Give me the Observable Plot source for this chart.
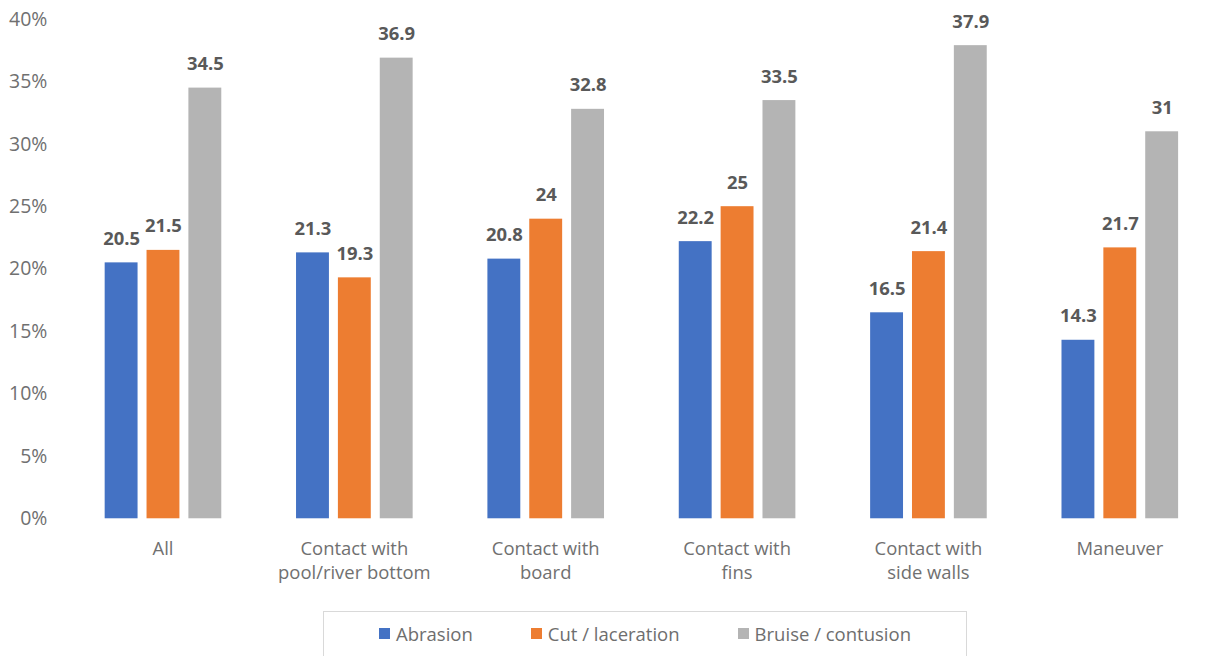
<!DOCTYPE html>
<html>
<head>
<meta charset="utf-8">
<script src="https://cdn.jsdelivr.net/npm/d3@7"></script>
<script src="https://cdn.jsdelivr.net/npm/@observablehq/plot@0.6"></script>
<style>
  html, body { margin: 0; padding: 0; background: #fff; overflow: hidden; }
  #chart { position: relative; width: 1215px; height: 656px; font-family: "Open Sans", sans-serif; }
  #legend {
    position: absolute; left: 323px; top: 611px; width: 644px; height: 48px;
    box-sizing: border-box; border: 1px solid #D9D9D9; border-bottom: none;
    display: flex; align-items: center; justify-content: center; gap: 58px;
    font-size: 18.5px; color: #6e6e6e; padding-bottom: 4px;
  }
  #legend .item { display: flex; align-items: center; gap: 6px; }
  #legend .sw { width: 11px; height: 11px; display: inline-block; }
</style>
</head>
<body>
<div id="chart"></div>
<script>
// Injury type shares by mechanism of injury (%)
const groups = [
  "All",
  "Contact with\npool/river bottom",
  "Contact with\nboard",
  "Contact with\nfins",
  "Contact with\nside walls",
  "Maneuver"
];
const series = ["Abrasion", "Cut / laceration", "Bruise / contusion"];
const colors = ["#4472C4", "#ED7D31", "#B4B4B4"];
const abrasion = [20.5, 21.3, 20.8, 22.2, 16.5, 14.3];
const cutLaceration = [21.5, 19.3, 24, 25, 21.4, 21.7];
const bruiseContusion = [34.5, 36.9, 32.8, 33.5, 37.9, 31];
const yTicks = [0, 5, 10, 15, 20, 25, 30, 35, 40];

const valuesBySeries = [abrasion, cutLaceration, bruiseContusion];
const rows = [];
groups.forEach((g, i) => {
  series.forEach((s, j) => rows.push({group: g, series: s, value: valuesBySeries[j][i]}));
});

const plot = Plot.plot({
  width: 1219,
  height: 600,
  marginLeft: 67,
  marginRight: 0,
  marginTop: 19,
  marginBottom: 80,
  style: {fontFamily: "'Open Sans', sans-serif", color: "#6e6e6e", background: "transparent"},
  fx: {domain: groups, padding: 0, axis: null},
  x: {domain: series, paddingInner: 0.2235, paddingOuter: 0.87, axis: null},
  y: {domain: [0, 40], axis: null},
  color: {domain: series, range: colors},
  marks: [
    Plot.gridY(yTicks, {stroke: "#D9D9D9", strokeOpacity: 1, strokeWidth: 1.3, facetAnchor: null, x1: 0, x2: 1219}),
    Plot.axisY(yTicks, {
      tickSize: 0, tickPadding: 20, fontSize: 19.5, fill: "#707070",
      tickFormat: d => d + "%", label: null
    }),
    Plot.barY(rows, {fx: "group", x: "series", y: "value", fill: "series"}),
    Plot.text(rows, {
      fx: "group", x: "series", y: "value", text: d => String(d.value),
      dy: -24, fontSize: 18.5, fontWeight: "bold", fill: "#595959"
    }),
    Plot.text(groups, {
      fx: d => d, text: d => d, frameAnchor: "bottom", lineAnchor: "top",
      dy: 19, fontSize: 18.5, lineHeight: 1.32, fill: "#707070"
    })
  ]
});

const chart = document.getElementById("chart");
plot.style.position = "absolute";
plot.style.left = "0px";
plot.style.top = "0px";
plot.style.overflow = "visible";
chart.appendChild(plot);

// Legend box below the plot
const legend = document.createElement("div");
legend.id = "legend";
series.forEach((s, j) => {
  const item = document.createElement("span");
  item.className = "item";
  const sw = document.createElement("span");
  sw.className = "sw";
  sw.style.background = colors[j];
  const label = document.createElement("span");
  label.textContent = s;
  item.appendChild(sw);
  item.appendChild(label);
  legend.appendChild(item);
});
chart.appendChild(legend);
</script>
</body>
</html>
